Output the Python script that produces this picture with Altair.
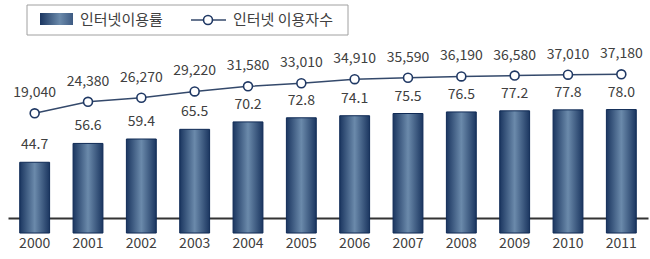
import altair as alt
import pandas as pd

years = ["2000", "2001", "2002", "2003", "2004", "2005", "2006", "2007", "2008", "2009", "2010", "2011"]
usage_rate = [44.7, 56.6, 59.4, 65.5, 70.2, 72.8, 74.1, 75.5, 76.5, 77.2, 77.8, 78.0]
users = [19040, 24380, 26270, 29220, 31580, 33010, 34910, 35590, 36190, 36580, 37010, 37180]

legend_labels = ["인터넷이용률", "인터넷 이용자수"]

df = pd.DataFrame({"year": years, "rate": usage_rate, "users": users})

FONT = "Noto Sans CJK KR"
TXT = "#404040"
NAVY = "#1f3864"

x_enc = alt.X("year:N", sort=years,
              scale=alt.Scale(paddingInner=0.44, paddingOuter=0.22),
              axis=alt.Axis(title=None, labelAngle=0, ticks=False, labelPadding=18,
                            labelFontSize=14, labelFont=FONT, labelColor=TXT,
                            domainColor="#333333", domainWidth=2))

bar_y = alt.Y("rate:Q", scale=alt.Scale(domain=[9.5, 147.2], nice=False, zero=False), axis=None)
line_y = alt.Y("users:Q", scale=alt.Scale(domain=[-29660, 71740], nice=False, zero=False), axis=None)

grad = alt.Gradient(gradient="linear", x1=0, x2=1, y1=0, y2=0, stops=[
    alt.GradientStop(offset=0, color="#1b3660"),
    alt.GradientStop(offset=0.5, color="#6b8aab"),
    alt.GradientStop(offset=1, color="#1b3660"),
])

base = alt.Chart(df)

bars = base.mark_bar(color=grad, stroke="#0f2a55", strokeWidth=1).encode(x=x_enc, y=bar_y)
bar_text = base.mark_text(font=FONT, fontSize=14, color=TXT, baseline="alphabetic", dy=-13).encode(
    x=x_enc, y=bar_y, text=alt.Text("rate:Q", format=".1f"))

line = base.mark_line(color="#34496b", strokeWidth=1.5).encode(x=x_enc, y=line_y)
points = base.mark_point(shape="circle", size=80, filled=True, fill="white", stroke=NAVY,
                         strokeWidth=1.6, opacity=1).encode(x=x_enc, y=line_y)
line_text = base.mark_text(font=FONT, fontSize=14, color=TXT, baseline="alphabetic", dy=-16).encode(
    x=x_enc, y=line_y, text=alt.Text("users:Q", format=","))

# manual legend (plot coordinates: page x - 8, page y - 0)
one = alt.Data(values=[{"k": 0}])
lg_box = alt.Chart(one).mark_rect(fill="white", stroke="#a0a0a0", strokeWidth=1).encode(
    x=alt.value(19), x2=alt.value(340), y=alt.value(5), y2=alt.value(35))
lg_swatch = alt.Chart(one).mark_rect(color=alt.Gradient(gradient="linear", x1=0, x2=1, y1=0, y2=0, stops=[
    alt.GradientStop(offset=0, color="#1b3660"),
    alt.GradientStop(offset=0.6, color="#6b8aab"),
    alt.GradientStop(offset=1, color="#3d5a82")])).encode(
    x=alt.value(32), x2=alt.value(65), y=alt.value(13), y2=alt.value(25))
lg_t1 = alt.Chart(alt.Data(values=[{"t": legend_labels[0]}])).mark_text(
    font=FONT, fontSize=15, color=TXT, align="left", baseline="middle").encode(
    x=alt.value(72), y=alt.value(20), text="t:N")
lg_line = alt.Chart(one).mark_rule(color="#34496b", strokeWidth=1.5).encode(
    x=alt.value(183), x2=alt.value(218), y=alt.value(20))
lg_pt = alt.Chart(one).mark_point(shape="circle", size=80, filled=True, fill="white", stroke=NAVY,
                                  strokeWidth=1.6, opacity=1).encode(x=alt.value(200), y=alt.value(20))
lg_t2 = alt.Chart(alt.Data(values=[{"t": legend_labels[1]}])).mark_text(
    font=FONT, fontSize=15, color=TXT, align="left", baseline="middle").encode(
    x=alt.value(225), y=alt.value(20), text="t:N")

chart = alt.layer(
    alt.layer(bars, bar_text),
    alt.layer(line, points, line_text),
    lg_box, lg_swatch, lg_t1, lg_line, lg_pt, lg_t2,
).resolve_scale(y="independent").properties(
    width=640, height=218,
    autosize=alt.AutoSizeParams(type="none"),
    padding={"left": 8, "top": 0, "right": 2, "bottom": 41},
    background="white",
).configure_view(stroke=None)

chart.save("out.html", embed_options={"renderer": "svg", "actions": False})
